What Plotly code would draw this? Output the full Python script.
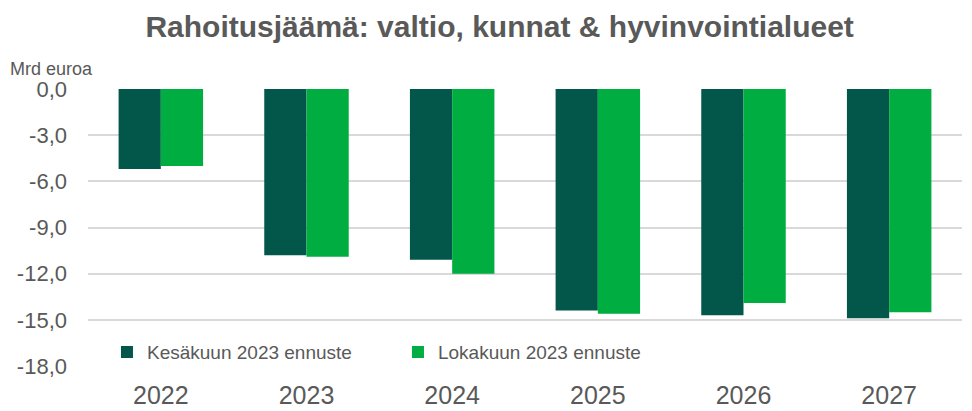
"""Rahoitusjäämä bar chart: valtio, kunnat & hyvinvointialueet."""

import plotly.graph_objects as go

years = ["2022", "2023", "2024", "2025", "2026", "2027"]
kesakuu = [-5.2, -10.8, -11.1, -14.4, -14.7, -14.9]
lokakuu = [-5.0, -10.9, -12.0, -14.6, -13.9, -14.5]
tick_values = [0, -3, -6, -9, -12, -15, -18]
tick_labels = ["0,0", "-3,0", "-6,0", "-9,0", "-12,0", "-15,0", "-18,0"]

TEXT = "#595959"
DARK = "#02574a"
GREEN = "#00ad40"

fig = go.Figure()
fig.add_trace(go.Bar(x=years, y=kesakuu, name="Kesäkuun 2023 ennuste",
                     marker={"color": DARK, "line": {"width": 0}}))
fig.add_trace(go.Bar(x=years, y=lokakuu, name="Lokakuun 2023 ennuste",
                     marker={"color": GREEN, "line": {"width": 0}}))

# the page body has an 8px margin, so the figure is sized to fit inside it
fig.update_layout(
    width=964,
    height=403,
    barmode="group",
    bargap=0.42,
    bargroupgap=0,
    plot_bgcolor="white",
    paper_bgcolor="white",
    font={"family": "Liberation Sans, Arial, sans-serif", "color": TEXT},
    title={"text": "<b>Rahoitusjäämä: valtio, kunnat & hyvinvointialueet</b>",
           "x": 0.51, "xanchor": "center", "y": 0.953, "yanchor": "middle",
           "font": {"size": 30, "color": TEXT}},
    margin={"l": 80, "r": 10, "t": 81, "b": 45},
    legend={"orientation": "h", "x": 0.0217, "xanchor": "left", "y": 0.05,
            "yanchor": "middle", "font": {"size": 19, "color": TEXT},
            "entrywidth": 246, "itemwidth": 30, "bgcolor": "rgba(0,0,0,0)"},
    showlegend=True,
)
fig.update_xaxes(tickfont={"size": 25, "color": TEXT}, showline=False,
                 ticks="", showgrid=False, automargin=False,
                 ticklabelstandoff=12)
fig.update_yaxes(range=[-18, 0], tickvals=tick_values, ticktext=tick_labels,
                 tickfont={"size": 22, "color": TEXT}, showgrid=True,
                 gridcolor="#d9d9d9", gridwidth=1.5, zeroline=False, ticks="",
                 ticklabelstandoff=20, automargin=False)
fig.add_annotation(text="Mrd euroa", xref="paper", yref="paper", x=-0.091,
                   y=1.072, xanchor="left", yanchor="middle", showarrow=False,
                   font={"size": 18, "color": TEXT})

fig.write_html("out.html")
